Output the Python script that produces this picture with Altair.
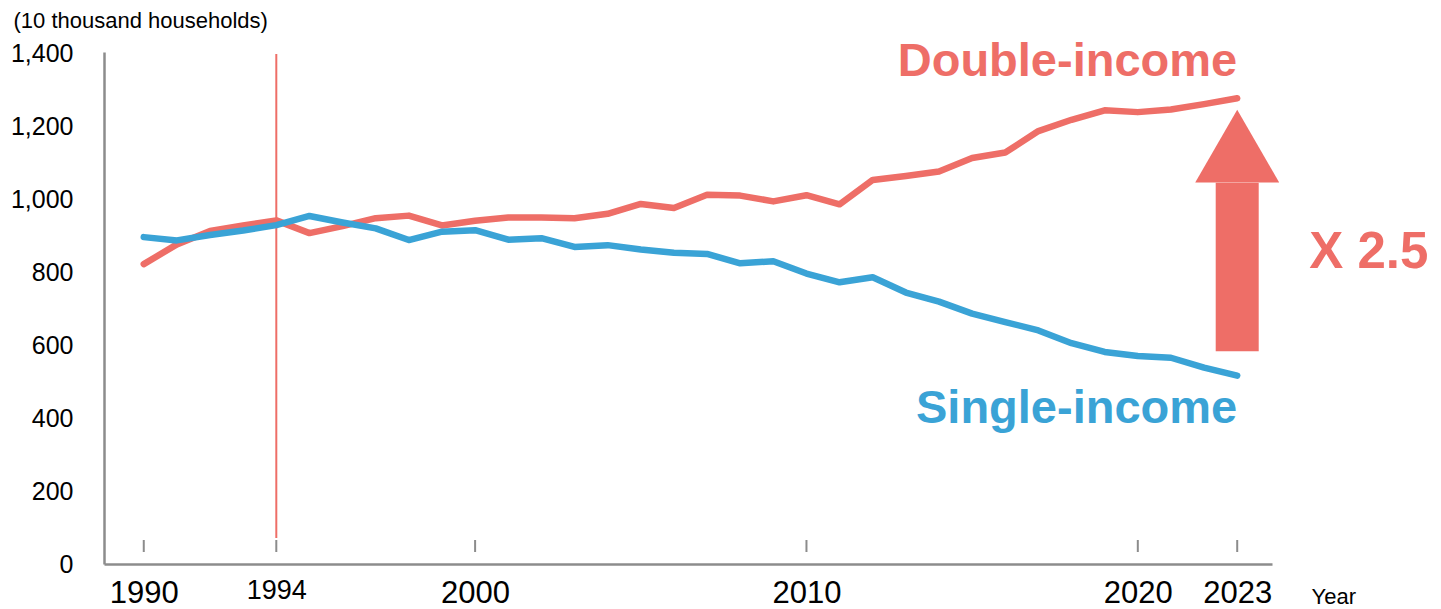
import altair as alt
import pandas as pd

years = list(range(1990, 2024))
double_income = [823, 877, 914, 929, 943, 908, 927, 949, 956, 929,
                 942, 951, 951, 949, 961, 988, 977, 1013, 1011, 995,
                 1012, 987, 1054, 1065, 1077, 1114, 1129, 1188, 1219, 1245,
                 1240, 1247, 1262, 1278]
single_income = [897, 888, 903, 915, 930, 955, 937, 921, 889, 912,
                 916, 890, 894, 870, 875, 863, 854, 851, 825, 831,
                 797, 773, 787, 745, 720, 687, 664, 641, 606, 582,
                 571, 566, 539, 517]
series_names = ["Double-income", "Single-income"]
tick_years = [1990, 1994, 2000, 2010, 2020, 2023]
y_ticks = [0, 200, 400, 600, 800, 1000, 1200, 1400]
marker_year = [1994]
ratio_label = "X 2.5"

RED = "#EE6E67"
BLUE = "#3AA3D6"
GRAY = "#8C8C8C"
FONT = "Liberation Sans"

df = pd.DataFrame({
    "year": years * 2,
    "value": double_income + single_income,
    "series": [series_names[0]] * len(years) + [series_names[1]] * len(years),
})
ticks_df = pd.DataFrame({"year": tick_years})
marker_df = pd.DataFrame({"year": marker_year})
arrow_df = pd.DataFrame({"year": [2023], "base": [584], "neck": [1046], "head": [1147]})
labels_df = pd.DataFrame({
    "year": [2023, 2023],
    "value": [1340, 387],
    "label": series_names,
})
ratio_df = pd.DataFrame({"year": [2023], "value": [812], "label": [ratio_label]})

x_scale = alt.Scale(domain=[1988.8, 2024.05], nice=False, zero=False)
y_scale = alt.Scale(domain=[0, 1405], nice=False)

x_axis = alt.Axis(
    values=tick_years, format="d", ticks=False, tickSize=0, grid=False,
    domainColor=GRAY, domainWidth=2.5,
    labelFont=FONT, labelColor="#000000",
    labelFontSize={"condition": {"test": "datum.value == 1994", "value": 27}, "value": 31},
    labelPadding={"condition": {"test": "datum.value == 1994", "value": 34}, "value": 38},
    labelBaseline="alphabetic", labelAlign="center", labelOverlap=False, labelFlush=False,
    title="Year", titleFont=FONT, titleFontSize=22, titleFontWeight="normal",
    titleColor="#000000", titleAlign="left", titleBaseline="alphabetic",
    titleAnchor="start", titleX=1207, titleY=39, titleAngle=0,
)
y_axis = alt.Axis(
    values=y_ticks, format=",d", ticks=False, tickSize=0, grid=False,
    domainColor=GRAY, domainWidth=2.5,
    labelFont=FONT, labelFontSize=25, labelColor="#000000", labelPadding=31,
    labelBaseline="middle",
    title="(10 thousand households)", titleFont=FONT, titleFontSize=22,
    titleFontWeight="normal", titleColor="#000000", titleAngle=0,
    titleAlign="left", titleBaseline="alphabetic", titleX=-91, titleY=-25,
)

lines = alt.Chart(df).mark_line(strokeWidth=6.5, strokeCap="round", strokeJoin="round").encode(
    x=alt.X("year:Q", scale=x_scale, axis=x_axis),
    y=alt.Y("value:Q", scale=y_scale, axis=y_axis),
    color=alt.Color("series:N", scale=alt.Scale(domain=series_names, range=[RED, BLUE]), legend=None),
    order=alt.Order("year:Q"),
)

marker = alt.Chart(marker_df).mark_rule(color=RED, strokeWidth=2).encode(
    x=alt.X("year:Q", scale=x_scale),
    y=alt.value(2), y2=alt.value(486),
)

ticks = alt.Chart(ticks_df).mark_rule(color=GRAY, strokeWidth=2).encode(
    x=alt.X("year:Q", scale=x_scale),
    y=alt.value(488), y2=alt.value(500),
)

shaft = alt.Chart(arrow_df).mark_rule(color=RED, strokeWidth=43, strokeCap="butt").encode(
    x=alt.X("year:Q", scale=x_scale),
    y=alt.Y("base:Q", scale=y_scale), y2="neck:Q",
)
head = alt.Chart(arrow_df).mark_point(shape="triangle-up", filled=True, color=RED,
                                      opacity=1, size=7056, strokeWidth=0).encode(
    x=alt.X("year:Q", scale=x_scale),
    y=alt.Y("head:Q", scale=y_scale),
)

series_text = alt.Chart(labels_df).mark_text(
    font=FONT, fontSize=47, fontWeight="bold", align="right", baseline="alphabetic",
).encode(
    x=alt.X("year:Q", scale=x_scale),
    y=alt.Y("value:Q", scale=y_scale),
    text="label:N",
    color=alt.Color("label:N", scale=alt.Scale(domain=series_names, range=[RED, BLUE]), legend=None),
)

ratio_text = alt.Chart(ratio_df).mark_text(
    font=FONT, fontSize=51, fontWeight="bold", align="left", baseline="alphabetic",
    color=RED, dx=72,
).encode(
    x=alt.X("year:Q", scale=x_scale),
    y=alt.Y("value:Q", scale=y_scale),
    text="label:N",
)

chart = alt.layer(marker, ticks, lines, shaft, head, series_text, ratio_text).properties(
    width=1168, height=512,
    autosize=alt.AutoSizeParams(type="none"),
    padding={"left": 96, "top": 44, "right": 161, "bottom": 44},
    background="white",
).configure_view(stroke=None)

chart.save("out.html", embed_options={"renderer": "svg", "actions": False})
